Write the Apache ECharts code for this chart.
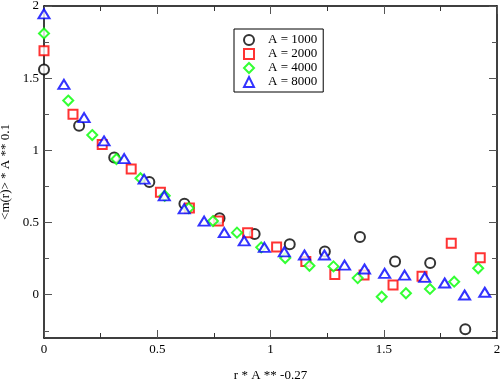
<!DOCTYPE html>
<html>
  <head>
    <meta charset="utf-8" />
    <title>m(r) scaling</title>
    <script src="https://cdn.jsdelivr.net/npm/echarts@6/dist/echarts.min.js"></script>
  </head>
  <body style="margin: 0">
    <div id="main" style="width: 502px; height: 382px;"></div>
  </body>
  <script>
    // values
    var x1000 = [0, 0.155, 0.31, 0.465, 0.62, 0.775, 0.93, 1.085, 1.24, 1.395, 1.55, 1.705, 1.86]
    var y1000 = [1.56, 1.17, 0.95, 0.78, 0.63, 0.53, 0.42, 0.35, 0.3, 0.4, 0.23, 0.22, -0.24]

    var x2000 = [0, 0.128, 0.257, 0.385, 0.514, 0.642, 0.77, 0.899, 1.027, 1.156, 1.284, 1.413, 1.541, 1.669, 1.798, 1.926]
    var y2000 = [1.69, 1.25, 1.04, 0.87, 0.71, 0.6, 0.51, 0.43, 0.33, 0.23, 0.14, 0.136, 0.067, 0.127, 0.357, 0.256]

    var x4000 = [0, 0.107, 0.213, 0.32, 0.426, 0.533, 0.639, 0.746, 0.852, 0.959, 1.065, 1.172, 1.278, 1.385, 1.491, 1.598, 1.704, 1.811, 1.917]
    var y4000 = [1.81, 1.345, 1.106, 0.94, 0.807, 0.685, 0.6, 0.51, 0.43, 0.328, 0.254, 0.2, 0.196, 0.115, -0.014, 0.01, 0.04, 0.09, 0.183]

    var x8000 = [0, 0.088, 0.177, 0.265, 0.354, 0.442, 0.531, 0.619, 0.707, 0.796, 0.884, 0.973, 1.061, 1.15, 1.238, 1.327, 1.415, 1.504, 1.592, 1.681, 1.769, 1.857, 1.946]
    var y8000 = [1.946, 1.457, 1.227, 1.065, 0.943, 0.8, 0.685, 0.595, 0.51, 0.43, 0.373, 0.328, 0.297, 0.275, 0.275, 0.205, 0.178, 0.148, 0.136, 0.12, 0.081, -0.002, 0.017]

    var yMajor = [0, 0.5, 1, 1.5, 2]
    var yMinor = [-0.25, 0.25, 0.75, 1.25, 1.75]

    var font = 'Liberation Serif'

    function pairs(xs, ys) {
      var out = []
      for (var i = 0; i < xs.length; i++) out.push([xs[i], ys[i]])
      return out
    }

    function scatter(name, symbol, size, color, xs, ys) {
      return {
        name: name,
        type: 'scatter',
        symbol: symbol,
        symbolSize: size,
        clip: false,
        itemStyle: { color: color, borderColor: color, borderWidth: 1 },
        data: pairs(xs, ys),
      }
    }

    function xAxis(pos, labels) {
      return {
        type: 'value',
        position: pos,
        min: 0,
        max: 2,
        interval: 0.5,
        axisLine: { show: true, onZero: false, lineStyle: { color: '#000', width: 1.5 } },
        axisTick: { inside: true, length: 8, lineStyle: { color: '#555' } },
        minorTick: { show: true, splitNumber: 2, length: 5, lineStyle: { color: '#333' } },
        axisLabel: { show: labels, margin: 5, color: '#000', fontFamily: font, fontSize: 13 },
        splitLine: { show: false },
        name: labels ? 'r * A ** -0.27' : '',
        nameLocation: 'middle',
        nameGap: 31,
        nameTextStyle: { color: '#000', fontFamily: font, fontSize: 13 },
      }
    }

    function yAxis(pos, ticks, len, line, labels) {
      return {
        type: 'value',
        position: pos,
        min: -0.3,
        max: 2,
        axisLine: { show: line, onZero: false, lineStyle: { color: '#000', width: 1.5 } },
        axisTick: { inside: true, length: len, customValues: ticks, lineStyle: { color: '#555' } },
        axisLabel: { show: labels, customValues: ticks, margin: 5, color: '#000', fontFamily: font, fontSize: 13 },
        splitLine: { show: false },
        name: labels ? '<m(r)> * A ** 0.1' : '',
        nameLocation: 'middle',
        nameGap: 30,
        nameTextStyle: { color: '#000', fontFamily: font, fontSize: 13 },
      }
    }

    var myChart = echarts.init(document.getElementById('main'))
    var option = {
      animation: false,
      backgroundColor: '#fff',
      grid: { left: 44, right: 5, top: 6, bottom: 44, outerBoundsMode: 'none' },
      legend: {
        orient: 'vertical',
        left: 234,
        top: 29,
        padding: [4, 6, 3, 9],
        itemWidth: 10,
        itemHeight: 10,
        itemGap: 0,
        borderColor: '#000',
        borderWidth: 1,
        textStyle: { color: '#000', fontFamily: font, fontSize: 13, lineHeight: 14, padding: [0, 0, 0, 9] },
        data: ['A = 1000', 'A = 2000', 'A = 4000', 'A = 8000'],
      },
      xAxis: [xAxis('bottom', true), xAxis('top', false)],
      yAxis: [
        yAxis('left', yMajor, 8, true, true),
        yAxis('left', yMinor, 5, false, false),
        yAxis('right', yMajor, 8, true, false),
        yAxis('right', yMinor, 5, false, false),
      ],
      series: [
        scatter('A = 1000', 'emptyCircle', 10, '#000', x1000, y1000),
        scatter('A = 2000', 'emptyRect', 9, '#ff0000', x2000, y2000),
        scatter('A = 4000', 'emptyDiamond', 10, '#00ff00', x4000, y4000),
        scatter('A = 8000', 'emptyTriangle', [11, 9], '#0000ff', x8000, y8000),
      ],
    }
    option && myChart.setOption(option)
  </script>
</html>
